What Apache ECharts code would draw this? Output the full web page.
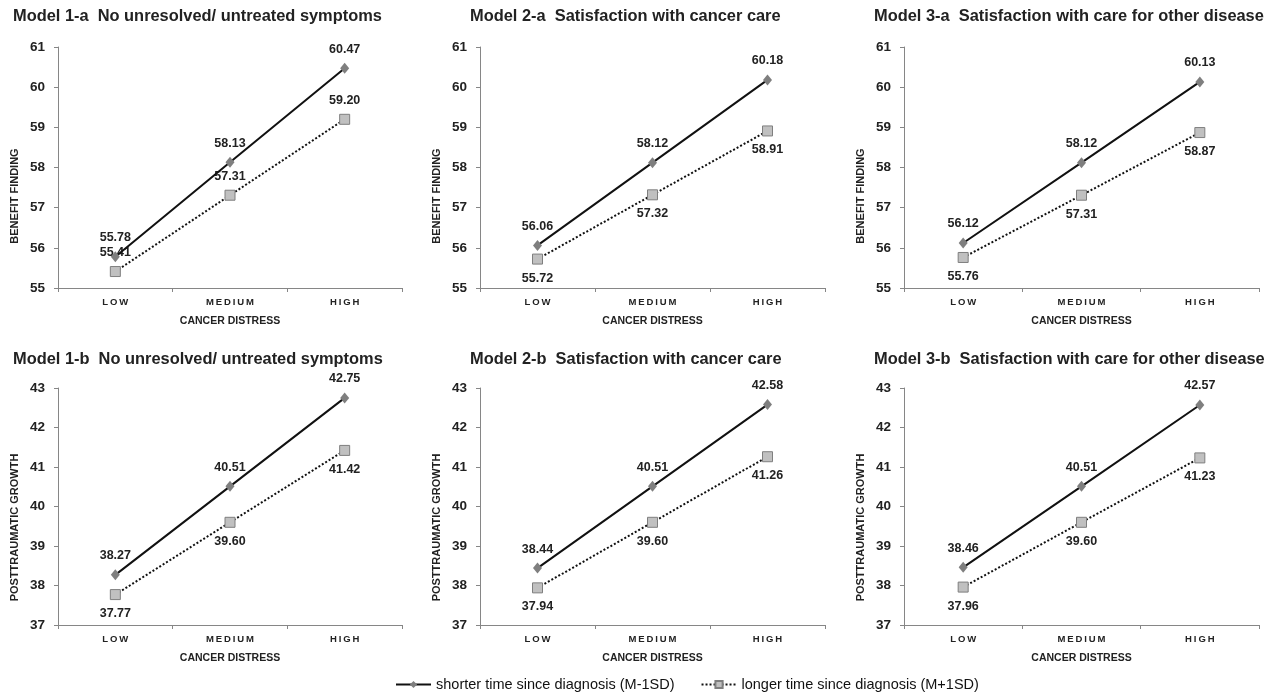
<!DOCTYPE html>
<html lang="en" style="height: 100%">
<head>
  <meta charset="utf-8">
</head>
<body style="height: 100%; margin: 0; background: #fff">
  <div id="container" style="width: 1275px; height: 694px"></div>
  <script type="text/javascript" src="https://cdn.jsdelivr.net/npm/echarts@6/dist/echarts.min.js"></script>
  <script type="text/javascript">
    // categories and series names
    var categories = ['LOW', 'MEDIUM', 'HIGH'];
    var seriesNames = ['shorter time since diagnosis (M-1SD)', 'longer time since diagnosis (M+1SD)'];

    // panel titles
    var titles = [
      'Model 1-a  No unresolved/ untreated symptoms',
      'Model 2-a  Satisfaction with cancer care',
      'Model 3-a  Satisfaction with care for other disease',
      'Model 1-b  No unresolved/ untreated symptoms',
      'Model 2-b  Satisfaction with cancer care',
      'Model 3-b  Satisfaction with care for other disease'
    ];
    var yNames = ['BENEFIT FINDING', 'BENEFIT FINDING', 'BENEFIT FINDING',
      'POSTTRAUMATIC GROWTH', 'POSTTRAUMATIC GROWTH', 'POSTTRAUMATIC GROWTH'];
    var xName = 'CANCER DISTRESS';

    // values: shorter (M-1SD) and longer (M+1SD)
    var shorter1a = [55.78, 58.13, 60.47];
    var longer1a = [55.41, 57.31, 59.20];
    var shorter2a = [56.06, 58.12, 60.18];
    var longer2a = [55.72, 57.32, 58.91];
    var shorter3a = [56.12, 58.12, 60.13];
    var longer3a = [55.76, 57.31, 58.87];
    var shorter1b = [38.27, 40.51, 42.75];
    var longer1b = [37.77, 39.60, 41.42];
    var shorter2b = [38.44, 40.51, 42.58];
    var longer2b = [37.94, 39.60, 41.26];
    var shorter3b = [38.46, 40.51, 42.57];
    var longer3b = [37.96, 39.60, 41.23];

    var shorterData = [shorter1a, shorter2a, shorter3a, shorter1b, shorter2b, shorter3b];
    var longerData = [longer1a, longer2a, longer3a, longer1b, longer2b, longer3b];

    // y-axis ranges
    var yMinTop = 55, yMaxTop = 61;
    var yMinBottom = 37, yMaxBottom = 43;

    var dom = document.getElementById('container');
    var myChart = echarts.init(dom, null, { renderer: 'canvas' });

    var font = 'Liberation Sans';
    var colLeft = [58, 480, 904];
    var colRight = [873, 450, 16];
    var titleLeft = [8, 465, 869];
    var rowTop = [47, 388];
    var rowHeight = [241, 237];
    var titleTop = [3, 346];
    var yNamePad = [57, 42];
    var longerLabelPos = ['top', 'bottom', 'bottom', 'bottom', 'bottom', 'bottom'];

    var labelFmt = function (p) { return p.value.toFixed(2); };

    var grids = [], xAxes = [], yAxes = [], titleList = [], series = [];
    for (var i = 0; i < 6; i++) {
      var row = i < 3 ? 0 : 1;
      var col = i % 3;
      grids.push({
        left: colLeft[col], right: colRight[col],
        top: rowTop[row], height: rowHeight[row]
      });
      titleList.push({
        text: titles[i],
        left: titleLeft[col],
        top: titleTop[row],
        textStyle: { fontFamily: font, fontSize: 16.4, fontWeight: 'bold', color: '#222' }
      });
      xAxes.push({
        type: 'category',
        gridIndex: i,
        data: categories,
        boundaryGap: true,
        name: xName,
        nameLocation: 'middle',
        nameGap: 28,
        nameTextStyle: { fontFamily: font, fontSize: 10.5, fontWeight: 'bold', color: '#222' },
        axisLine: { lineStyle: { color: '#868686', width: 1 } },
        axisTick: { show: true, alignWithLabel: false, length: 4, lineStyle: { color: '#868686' } },
        axisLabel: {
          fontFamily: font, fontSize: 9.5, fontWeight: 'bold', color: '#222', margin: 9,
          formatter: function (v) { return v.split('').join('\u2009'); }
        },
        splitLine: { show: false }
      });
      yAxes.push({
        type: 'value',
        gridIndex: i,
        min: row === 0 ? yMinTop : yMinBottom,
        max: row === 0 ? yMaxTop : yMaxBottom,
        interval: 1,
        name: yNames[i],
        nameLocation: 'middle',
        nameGap: 38,
        nameTextStyle: {
          fontFamily: font, fontSize: 11, fontWeight: 'bold', color: '#222',
          padding: [0, yNamePad[row], 0, 0]
        },
        axisLine: { show: true, lineStyle: { color: '#868686', width: 1 } },
        axisTick: { show: true, length: 4, lineStyle: { color: '#868686' } },
        axisLabel: { fontFamily: font, fontSize: 13.5, fontWeight: 'bold', color: '#222', margin: 13 },
        splitLine: { show: false }
      });
      series.push({
        name: seriesNames[0],
        type: 'line',
        xAxisIndex: i, yAxisIndex: i,
        data: shorterData[i],
        symbol: 'diamond',
        symbolSize: [9, 11],
        itemStyle: { color: '#7f7f7f' },
        lineStyle: { color: '#111', width: 2, type: 'solid' },
        label: {
          show: true, position: 'top', distance: 7,
          fontFamily: font, fontSize: 12.5, fontWeight: 'bold', color: '#222',
          formatter: labelFmt
        },
        animation: false,
        z: 3
      });
      series.push({
        name: seriesNames[1],
        type: 'line',
        xAxisIndex: i, yAxisIndex: i,
        data: longerData[i],
        symbol: 'rect',
        symbolSize: 10,
        itemStyle: { color: '#c0c0c0', borderColor: '#7f7f7f', borderWidth: 1 },
        lineStyle: { color: '#111', width: 2, type: [2, 2] },
        label: {
          show: true, position: longerLabelPos[i], distance: 7,
          fontFamily: font, fontSize: 12.5, fontWeight: 'bold', color: '#222',
          formatter: labelFmt
        },
        animation: false,
        z: 2
      });
    }

    var option = {
      backgroundColor: '#fff',
      title: titleList,
      grid: grids,
      xAxis: xAxes,
      yAxis: yAxes,
      legend: {
        data: seriesNames,
        left: 390,
        top: 672,
        itemWidth: 35,
        itemHeight: 9,
        itemGap: 26,
        textStyle: { fontFamily: font, fontSize: 14.5, color: '#111' }
      },
      series: series
    };
    myChart.setOption(option);
    window.addEventListener('resize', myChart.resize);
  </script>
</body>
</html>
